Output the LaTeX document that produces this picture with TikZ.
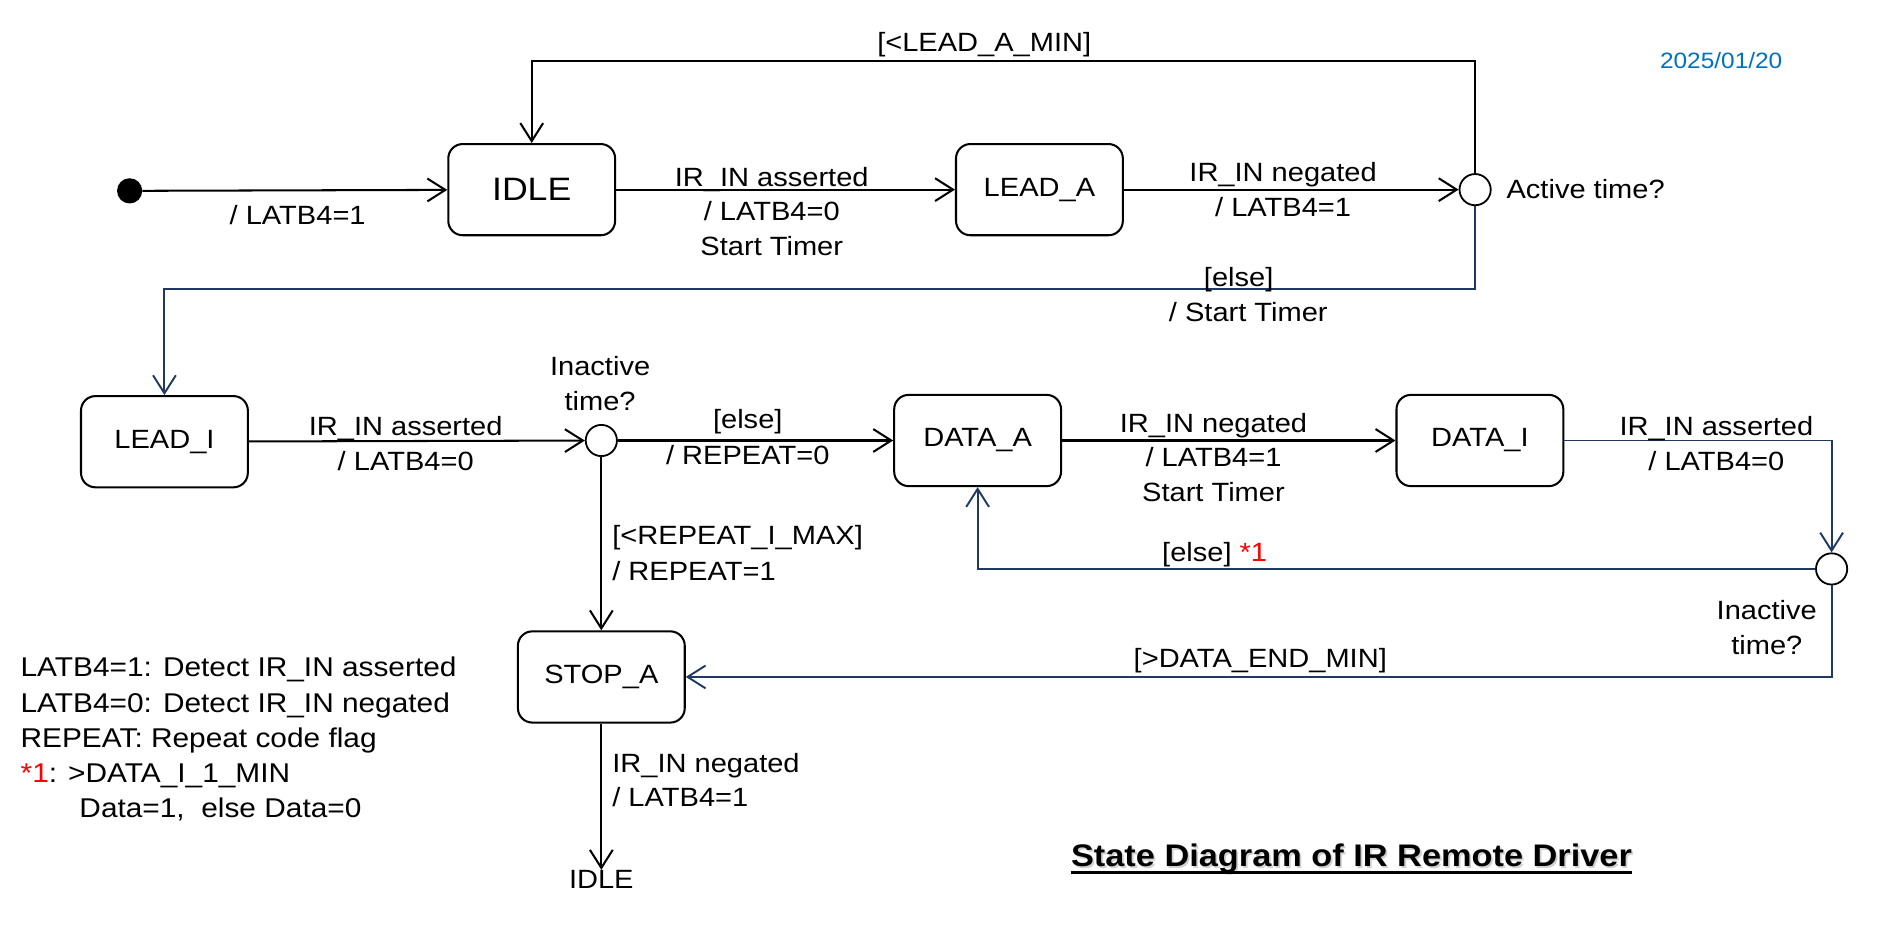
\documentclass[tikz,border=0pt]{standalone}
\usepackage{fontspec}
\setmainfont{Liberation Sans}[FakeStretch=1.1]
\usetikzlibrary{arrows.meta,calc}
\definecolor{navyc}{RGB}{32,56,100}
\definecolor{datecol}{RGB}{0,112,192}
\definecolor{redc}{RGB}{255,0,0}
\begin{document}
\begin{tikzpicture}[x=1pt,y=-1pt,
  state/.style={draw,line width=1.7pt,rounded corners=12pt,minimum width=139pt,minimum height=76pt,inner sep=0pt,font=\fontsize{22}{26}\selectfont},
  choice/.style={draw,circle,line width=1.5pt,minimum size=26pt,inner sep=0pt},
  tr/.style={line width=1.7pt,-{Straight Barb[length=15pt,width=19pt]}},
  ntr/.style={tr,draw=navyc,line width=1.6pt},
  lbl/.style={anchor=base,inner sep=0pt,font=\fontsize{22}{26}\selectfont},
  lbll/.style={lbl,anchor=base west},
  legend/.style={lbll,font=\fontsize{22.6}{26}\selectfont},
]
\useasboundingbox (0,0) rectangle (1568,771.5);

% states
\node[circle,fill=black,minimum size=21pt,inner sep=0pt] (init) at (108,159) {};
\node[state,font=\fontsize{27}{30}\selectfont] (idle) at (443,158) {IDLE};
\node[state] (leada) at (866,158) {LEAD\_A};
\node[choice] (c1) at (1229,158) {};
\node[state] (leadi) at (137,368) {LEAD\_I};
\node[choice] (c2) at (501,367) {};
\node[state] (dataa) at (814.5,367) {DATA\_A};
\node[state] (datai) at (1233,367) {DATA\_I};
\node[choice] (c3) at (1526,474) {};
\node[state] (stopa) at (501,564) {STOP\_A};
\node[lbl] (idletxt) at (501,740) {IDLE};

\coordinate (ltop) at (idle.north |- 0,51);
\coordinate (lelse) at (leadi.north |- 0,241);

% transitions
\draw[tr] (init) -- (idle);
\draw[tr] (idle) -- (leada);
\draw[tr] (leada) -- (c1);
\draw[tr] (c1.north) |- (ltop) -- (idle.north);
\draw[ntr] (c1.south) |- (lelse) -- (leadi.north);
\draw[tr] (leadi) -- (c2);
\draw[tr] (c2) -- (dataa);
\draw[tr] (c2) -- (stopa);
\draw[tr] (dataa) -- (datai);
\draw[ntr] (datai.east) -| (c3.north);
\draw[ntr] (c3.west) -| (dataa.south);
\draw[ntr] (c3.south) |- (stopa.east);
\draw[tr] (stopa) -- (idletxt);

% labels
\node[lbl] (t1) at (248,187) {/ LATB4=1};
\node[lbl] (t2a) at (643,155) {IR\_IN asserted};
\node[lbl] (t2b) at (643,184) {/ LATB4=0};
\node[lbl] (t2c) at (643,213) {Start Timer};
\node[lbl] (t3a) at (1069,151) {IR\_IN negated};
\node[lbl] (t3b) at (1069,180) {/ LATB4=1};
\node[lbll] (c1t) at (1255,165) {Active time?};
\node[lbl] (t4) at (820,43) {[<LEAD\_A\_MIN]};
\node[lbl,font=\fontsize{18.5}{22}\selectfont,text=datecol] (date) at (1434,57) {2025/01/20};
\node[lbl] (t5a) at (1032,239) {[else]};
\node[lbl] (t5b) at (1040,268) {/ Start Timer};
\node[lbl] (t6a) at (338,363) {IR\_IN asserted};
\node[lbl] (t6b) at (338,392) {/ LATB4=0};
\node[lbl] (c2a) at (500,313) {Inactive};
\node[lbl] (c2b) at (500,342) {time?};
\node[lbl] (t7a) at (623,357) {[else]};
\node[lbl] (t7b) at (623,387) {/ REPEAT=0};
\node[lbll] (t8a) at (510,454) {[<REPEAT\_I\_MAX]};
\node[lbll] (t8b) at (510,484) {/ REPEAT=1};
\node[lbl] (t9a) at (1011,360) {IR\_IN negated};
\node[lbl] (t9b) at (1011,389) {/ LATB4=1};
\node[lbl] (t9c) at (1011,418) {Start Timer};
\node[lbl] (t10a) at (1430,363) {IR\_IN asserted};
\node[lbl] (t10b) at (1430,392) {/ LATB4=0};
\node[lbl] (t11) at (1012,468) {[else] \textcolor{redc}{*1}};
\node[lbl] (c3a) at (1472,516) {Inactive};
\node[lbl] (c3b) at (1472,545) {time?};
\node[lbl] (t12) at (1050,556) {[>DATA\_END\_MIN]};
\node[lbll] (t13a) at (510,644) {IR\_IN negated};
\node[lbll] (t13b) at (510,672) {/ LATB4=1};

% legend
\node[legend] (g1) at (17,564) {LATB4=1: Detect IR\_IN asserted};
\node[legend] (g2) at (17,594) {LATB4=0: Detect IR\_IN negated};
\node[legend] (g3) at (17,623) {REPEAT: Repeat code flag};
\node[legend] (g4) at (17,652) {\textcolor{redc}{*1}: >DATA\_I\_1\_MIN};
\node[legend] (g5) at (66,681) {Data=1,\ \ else Data=0};

% title
\node[lbl,font=\bfseries\fontsize{26}{30}\selectfont,text=black!18] (titlesh) at (1127.5,723.5) {State Diagram of IR Remote Driver};
\node[lbl,font=\bfseries\fontsize{26}{30}\selectfont] (title) at (1126,722) {State Diagram of IR Remote Driver};
\draw[line width=2pt] ([yshift=-5pt]title.base west) -- ([yshift=-5pt]title.base east);
\end{tikzpicture}
\end{document}
